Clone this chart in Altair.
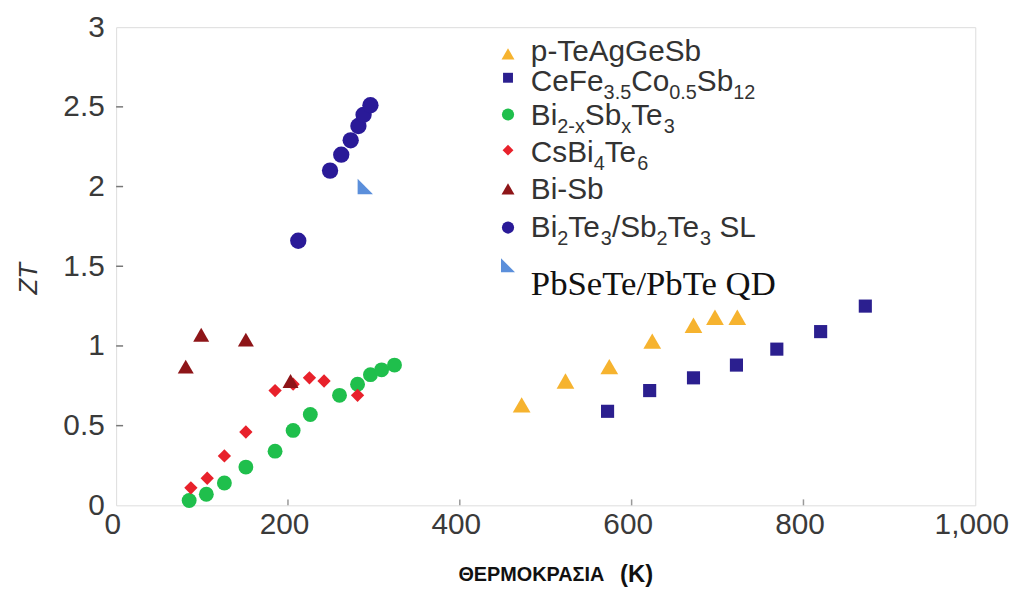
import altair as alt
import pandas as pd

# ---------------- data ----------------
teag_x = [472, 523, 574, 624, 672, 697, 723]
teag_y = [0.63, 0.78, 0.87, 1.03, 1.13, 1.18, 1.18]
cefe_x = [572, 621, 672, 722, 769, 820, 872]
cefe_y = [0.59, 0.72, 0.80, 0.88, 0.98, 1.09, 1.25]
bisbte_x = [85, 105, 126, 151, 185, 206, 226, 260, 281, 296, 309, 324]
bisbte_y = [0.03, 0.07, 0.14, 0.24, 0.34, 0.47, 0.57, 0.69, 0.76, 0.82, 0.85, 0.88]
csbi_x = [87, 106, 126, 151, 185, 206, 225, 242, 281]
csbi_y = [0.11, 0.17, 0.31, 0.46, 0.72, 0.76, 0.80, 0.78, 0.69]
bisb_x = [81, 99, 151, 203]
bisb_y = [0.87, 1.07, 1.04, 0.78]
sl_x = [212, 249, 262, 273, 282, 288, 296]
sl_y = [1.66, 2.10, 2.20, 2.29, 2.38, 2.45, 2.51]
qd_x = [290]
qd_y = [2.00]

x_ticks = [0, 200, 400, 600, 800, 1000]
y_ticks = [0, 0.5, 1, 1.5, 2, 2.5, 3]

RTRI = "M-1,-1L1,1L-1,1Z"
series = [
    # name, xs, ys, shape, color, size
    ("Bi2-xSbxTe3", bisbte_x, bisbte_y, "circle", "#1fbf4c", 225),
    ("CsBi4Te6", csbi_x, csbi_y, "diamond", "#e8212b", 180),
    ("Bi-Sb", bisb_x, bisb_y, "triangle-up", "#8e1518", 260),
    ("SL", sl_x, sl_y, "circle", "#2a1a98", 270),
    ("p-TeAgGeSb", teag_x, teag_y, "triangle-up", "#f6b32f", 320),
    ("CeFe", cefe_x, cefe_y, "square", "#2b1f8f", 175),
    ("QD", qd_x, qd_y, RTRI, "#5b8fdb", 240),
]
rows = []
for name, xs, ys, shp, col, sz in series:
    for xv, yv in zip(xs, ys):
        rows.append({"series": name, "T": xv, "ZT": yv, "shape": shp, "color": col, "size": sz})
pts = pd.DataFrame(rows)

W, H = 866, 482

# ---------------- legend (pixel layout) ----------------
FS, SFS = 30, 20
CW = {' ': .278, '-': .333, '.': .278, '/': .278, 'A': .667, 'B': .667, 'C': .722, 'D': .722,
      'G': .778, 'L': .556, 'P': .667, 'S': .667, 'T': .611, 'F': .611, 'a': .556, 'b': .556,
      'c': .5, 'e': .556, 'g': .556, 'i': .222, 'o': .556, 'p': .556, 's': .5, 'x': .5}
def tw(s, fs):
    w = sum(CW.get(ch, .556) for ch in s) * fs
    w -= s.count("Te") * 0.074 * fs  # kerning of the T-e pair
    return w

leg_labels = [
    [("p-TeAgGeSb", 0)],
    [("CeFe", 0), ("3.5", 1), ("Co", 0), ("0.5", 1), ("Sb", 0), ("12", 1)],
    [("Bi", 0), ("2-x", 1), ("Sb", 0), ("x", 1), ("Te", 0), ("3", 1)],
    [("CsBi", 0), ("4", 1), ("Te", 0), ("6", 1)],
    [("Bi-Sb", 0)],
    [("Bi", 0), ("2", 1), ("Te", 0), ("3", 1), ("/Sb", 0), ("2", 1), ("Te", 0), ("3", 1), ("SL", 2)],
]
leg_base = [34, 64, 99, 136, 173, 212]
leg_sym_y = [27, 51, 88, 124, 163, 202, 240]
leg_shapes = ["triangle-up", "square", "circle", "diamond", "triangle-up", "circle", RTRI]
leg_colors = ["#f6b32f", "#2b1f8f", "#1fbf4c", "#e8212b", "#8e1518", "#2a1a98", "#5b8fdb"]
leg_sizes = [170, 100, 150, 120, 170, 150, 200]

main_rows, sub_rows = [], []
for segs, base in zip(leg_labels, leg_base):
    xpos = 418
    for txt, sub in segs:
        if sub == 1:
            sub_rows.append({"px": xpos, "py": base + 8, "t": txt})
            xpos += tw(txt, SFS)
        else:
            if sub == 2:  # preceded by a space
                xpos += 0.278 * FS
            main_rows.append({"px": xpos, "py": base, "t": txt})
            xpos += tw(txt, FS)
main_df = pd.DataFrame(main_rows)
sub_df = pd.DataFrame(sub_rows)
sym_df = pd.DataFrame({"px": [395] * 7, "py": leg_sym_y, "shape": leg_shapes,
                       "color": leg_colors, "size": leg_sizes})

# ---------------- chart ----------------
xs = alt.Scale(domain=[0, 1000], nice=False, zero=False)
ys = alt.Scale(domain=[0, 3], nice=False)

points = alt.Chart(pts).mark_point(filled=True, opacity=1, strokeWidth=0).encode(
    x=alt.X("T:Q", scale=xs, axis=alt.Axis(
        values=x_ticks, format=",d", title=None, domain=False, ticks=False, grid=False,
        labelFont="Liberation Sans", labelFontSize=30, labelColor="#3a3a3a",
        labelPadding=4, labelOffset=-4, labelFlush=False, labelOverlap=False)),
    y=alt.Y("ZT:Q", scale=ys, axis=alt.Axis(
        values=y_ticks, format="~g", domain=False, ticks=False, grid=False,
        labelFont="Liberation Sans", labelFontSize=30, labelColor="#3a3a3a",
        labelPadding=12, labelFlush=False, labelOverlap=False,
        title="ZT", titleFont="Liberation Sans", titleFontSize=26, titleFontStyle="italic",
        titleFontWeight="normal", titleColor="#333333", titleX=-88, titleY=253,
        titleAngle=270, titleAlign="center", titleBaseline="middle")),
    shape=alt.Shape("shape:N", scale=None),
    color=alt.Color("color:N", scale=None),
    size=alt.Size("size:Q", scale=None),
    order=alt.Order("idx:Q"),
).transform_window(idx="row_number()")

ytick_df = pd.DataFrame({"v": [0.5, 1, 1.5, 2, 2.5]})
xtick_df = pd.DataFrame({"v": [200, 400, 600, 800]})
yticks = alt.Chart(ytick_df).mark_rule(color="#777777", strokeWidth=1.5).encode(
    y=alt.Y("v:Q", scale=ys), x=alt.value(0), x2=alt.value(7))
xticks = alt.Chart(xtick_df).mark_rule(color="#999999", strokeWidth=1.5).encode(
    x=alt.X("v:Q", scale=xs), y=alt.value(H), y2=alt.value(H - 6))

leg_sym = alt.Chart(sym_df).mark_point(filled=True, opacity=1, strokeWidth=0).encode(
    x=alt.X("px:Q", scale=None), y=alt.Y("py:Q", scale=None),
    shape=alt.Shape("shape:N", scale=None), color=alt.Color("color:N", scale=None),
    size=alt.Size("size:Q", scale=None))
leg_main = alt.Chart(main_df).mark_text(
    align="left", baseline="alphabetic", font="Liberation Sans", fontSize=FS, color="#333333"
).encode(x=alt.X("px:Q", scale=None), y=alt.Y("py:Q", scale=None), text="t:N")
leg_sub = alt.Chart(sub_df).mark_text(
    align="left", baseline="alphabetic", font="Liberation Sans", fontSize=SFS, color="#333333"
).encode(x=alt.X("px:Q", scale=None), y=alt.Y("py:Q", scale=None), text="t:N")

qd_df = pd.DataFrame({"px": [418], "py": [270], "t": ["PbSeTe/PbTe QD"]})
leg_qd = alt.Chart(qd_df).mark_text(
    align="left", baseline="alphabetic", font="Liberation Serif", fontSize=35, color="#111111"
).encode(x=alt.X("px:Q", scale=None), y=alt.Y("py:Q", scale=None), text="t:N")

xt_df = pd.DataFrame({"px": [345, 508], "py": [558, 559], "t": ["ΘΕΡΜΟΚΡΑΣΙΑ", "(K)"],
                      "fs": [20, 24]})
xtitle = alt.Chart(xt_df).mark_text(
    align="left", baseline="alphabetic", font="Liberation Sans", fontWeight="bold", color="#111111"
).encode(x=alt.X("px:Q", scale=None), y=alt.Y("py:Q", scale=None), text="t:N",
         size=alt.Size("fs:Q", scale=None))

chart = alt.layer(yticks, xticks, points, leg_sym, leg_main, leg_sub, leg_qd, xtitle).properties(
    width=W, height=H,
    autosize=alt.AutoSizeParams(type="none"),
    padding={"left": 109, "top": 17, "right": 36, "bottom": 81},
).configure_view(stroke="#777777", strokeWidth=2).configure(background="white")

chart.save("out.html", embed_options={"renderer": "svg", "actions": False})
